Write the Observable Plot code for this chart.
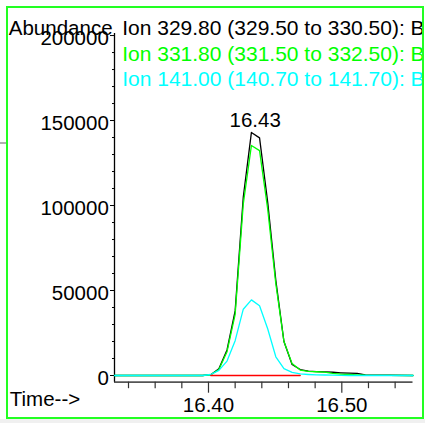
<!DOCTYPE html>
<html>
<head>
<meta charset="utf-8">
<script src="https://cdn.jsdelivr.net/npm/d3@7"></script>
<script src="https://cdn.jsdelivr.net/npm/@observablehq/plot@0.6"></script>
<style>
  html, body { margin: 0; padding: 0; background: #fff; }
  #wrap { position: relative; width: 425px; height: 423px; overflow: hidden; }
  #wrap svg { position: absolute; left: 0; top: 0; clip-path: inset(0px 2px 0px 0px); }
  #frame { position: absolute; left: 6px; top: 6px; width: 414px; height: 409px; border: 2px solid #22ff22; pointer-events: none; }
  #strip { position: absolute; left: 0; top: 419px; width: 425px; height: 4px; background: #f0f0f0; }
  #gline { position: absolute; left: 0; top: 142px; width: 6px; height: 2px; background: #b0b0b0; }
</style>
</head>
<body>
<div id="wrap"><div id="strip"></div><div id="gline"></div></div>
<script>
// ---- data ----
const times   = [16.3295, 16.3956, 16.4017, 16.4078, 16.4139, 16.4200, 16.4261, 16.4322, 16.4383, 16.4444, 16.4505, 16.4566, 16.4627, 16.4688, 16.4749, 16.4810, 16.4871, 16.4932, 16.4993, 16.5054, 16.5115, 16.5176, 16.5534];
const ion329  = [0, 0, 500, 4000, 15000, 38000, 105000, 143000, 139800, 102000, 56000, 20000, 6500, 3500, 2600, 2300, 2100, 1900, 1600, 1400, 1200, 300, 0];
const ion331  = [0, 0, 400, 3500, 14000, 36000, 101000, 135300, 132300, 98000, 54000, 20000, 7000, 3200, 2400, 2200, 2000, 1200, 800, 600, 400, 200, 0];
const ion141  = [0, 0, 600, 3000, 8500, 20500, 39000, 44500, 41000, 27500, 11000, 4000, 1800, 900, 600, 400, 300, 200, 100, 0, 0, 0, 0];
const baselineTimes = [16.4017, 16.4688];
const baselineValues = [0, 0];

const seriesNames  = ["Ion 329.80 (329.50 to 330.50): B", "Ion 331.80 (331.50 to 332.50): B", "Ion 141.00 (140.70 to 141.70): B"];
const seriesColors = ["#000000", "#00ff00", "#00ffff"];
const peakTime = 16.4322, peakValue = 143000, peakLabel = "16.43";

const yMajorTicks = [0, 50000, 100000, 150000, 200000];
const yMinorTicks = [10000, 20000, 30000, 40000, 60000, 70000, 80000, 90000, 110000, 120000, 130000, 140000, 160000, 170000, 180000, 190000];
const xMajorTicks = [16.40, 16.50];
const xMinorTicks = [16.34, 16.36, 16.38, 16.42, 16.44, 16.46, 16.48, 16.52, 16.54];
const yTitle = "Abundance";
const xTitle = "Time-->";

const xDomain = [16.3295, 16.5534];
const yDomain = [-3940, 201200];

// ---- build tables ----
const seriesValues = [ion329, ion331, ion141];
const lineData = seriesValues.map((vals, i) => times.map((t, j) => ({t, v: vals[j], s: i})));
const baseData = baselineTimes.map((t, j) => ({t, v: baselineValues[j]}));

const font = "Liberation Sans, Arial, sans-serif";
const fs = 20.5;
const legendFs = 21;
const legendRowGap = 25.3;

const chart = Plot.plot({
  width: 425,
  height: 423,
  marginLeft: 114,
  marginRight: 12.5,
  marginTop: 33,
  marginBottom: 41.3,
  style: {fontFamily: font, fontSize: fs + "px", background: "transparent", overflow: "visible"},
  x: {domain: xDomain},
  y: {domain: yDomain},
  marks: [
    // axis lines
    Plot.ruleY([yDomain[0]], {stroke: "#555", strokeWidth: 1.7}),
    Plot.ruleX([xDomain[0]], {stroke: "#000", strokeWidth: 1.3}),
    // y ticks
    Plot.axisY(yMinorTicks, {anchor: "left", tickSize: 2, fill: "none", stroke: "#000", label: null}),
    Plot.axisY(yMajorTicks, {anchor: "left", tickSize: 4, fill: "none", stroke: "#000", label: null}),
    Plot.axisY(yMajorTicks, {anchor: "left", tickSize: 4, tickPadding: 1.7, stroke: "none", fill: "#000", dy: 2.6, fontSize: fs, tickFormat: d => String(d), label: null}),
    // x ticks
    Plot.axisX(xMinorTicks, {anchor: "bottom", tickSize: 6.5, fill: "none", stroke: "#333", strokeWidth: 1.2, label: null}),
    Plot.axisX(xMajorTicks, {anchor: "bottom", tickSize: 11, fill: "none", stroke: "#333", strokeWidth: 1.2, label: null}),
    Plot.axisX(xMajorTicks, {anchor: "bottom", tickSize: 11, tickPadding: 4.4, stroke: "none", fill: "#000", fontSize: fs, tickFormat: d3.format(".2f"), label: null}),
    // series lines
    ...lineData.map((d, i) => Plot.line(d, {x: "t", y: "v", stroke: seriesColors[i], strokeWidth: 1.3})),
    Plot.line(baseData, {x: "t", y: "v", stroke: "#ff0000", strokeWidth: 1.3}),
    // peak label
    Plot.text([{t: peakTime, v: peakValue}], {x: "t", y: "v", text: () => peakLabel, dx: 3.8, dy: -12.1, fontSize: fs, fill: "#000"}),
    // titles
    Plot.text([yTitle], {frameAnchor: "top-left", textAnchor: "start", dx: -105.7, dy: -12.7, fontSize: fs, fill: "#000"}),
    Plot.text([xTitle], {frameAnchor: "bottom-left", textAnchor: "start", dx: -104.7, dy: 23.6, fontSize: fs, fill: "#000"}),
    // legend rows
    ...seriesNames.map((name, i) => Plot.text([name], {frameAnchor: "top-left", textAnchor: "start", dx: 7.7, dy: -13 + i * legendRowGap, fontSize: legendFs, fill: seriesColors[i]}))
  ]
});

const wrap = document.getElementById("wrap");
wrap.insertBefore(chart, wrap.firstChild);
const frame = document.createElement("div");
frame.id = "frame";
wrap.appendChild(frame);
</script>
</body>
</html>
